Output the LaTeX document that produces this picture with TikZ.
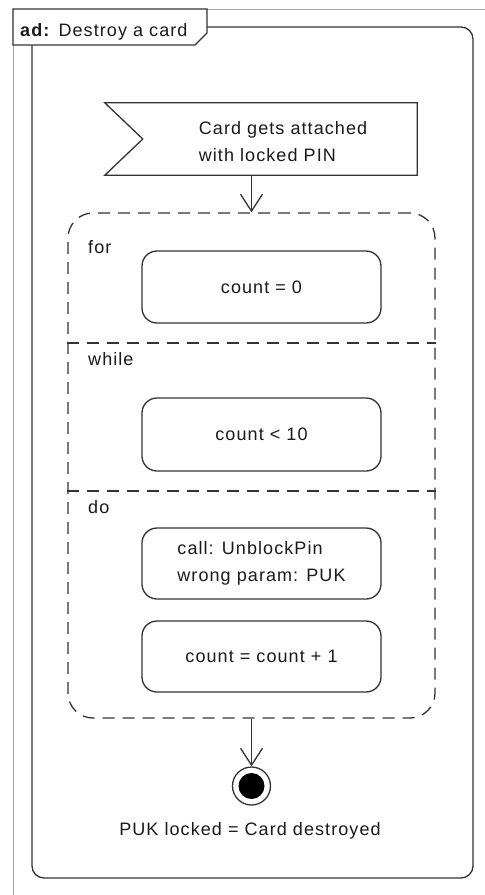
\documentclass[tikz,border=0pt]{standalone}
\usepackage{fontspec}
\setmainfont{Liberation Sans}[LetterSpace=6]
\usetikzlibrary{arrows.meta,calc}
\definecolor{ln}{HTML}{333333}
\definecolor{tx}{HTML}{1A1A1A}
\begin{document}
\begin{tikzpicture}[x=1pt,y=-1pt,
  every node/.style={font=\fontsize{18}{27}\selectfont, text=tx},
  line/.style={draw=ln, line width=1.3pt},
  action/.style={line, rectangle, rounded corners=15pt, minimum width=239pt, inner sep=0pt},
  dsh/.style={draw=ln, line width=1.3pt, dash pattern=on 12pt off 8pt},
  arr/.style={draw=ln, line width=1.3pt, -{Straight Barb[length=17pt,width=22pt,line width=1.3pt]}},
  lbl/.style={anchor=base west, inner sep=0pt},
]
\useasboundingbox (0,0) rectangle (485,895);
\fill[white] (0,0) rectangle (485,895);
% outer frame
\draw[gray!70, line width=1pt] (13,895) -- (13,9) -- (485,9);
% activity frame
\draw[line, rounded corners=12pt] (32,27) rectangle (473,878);
% tab
\draw[line, fill=white] (13,9) -- (207,9) -- (207,33) -- (195,45) -- (13,45) -- cycle;
\node[lbl] (title) at (20,36) {\textbf{ad:} Destroy a card};
% accept event
\node[minimum width=312pt, minimum height=72pt, inner sep=0pt] (ev) at (261,139) {};
\draw[line] (ev.north west) -- (ev.north east) -- (ev.south east) -- (ev.south west) -- ($(ev.west)+(38,0)$) -- cycle;
\node[align=left, inner sep=0pt] (evt) at (283,142) {Card gets attached\\with locked PIN};
% loop region
\node[dsh, rectangle, rounded corners=25pt, minimum width=367pt, minimum height=505pt, inner sep=0pt] (loop) at (251.5,465.5) {};
\draw[arr] (loop.north |- ev.south) -- (loop.north);
\coordinate (d1) at (0,343);
\coordinate (d2) at (0,491);
\draw[dsh] (loop.west |- d1) -- (loop.east |- d1);
\draw[dsh] (loop.west |- d2) -- (loop.east |- d2);
\node[lbl] (for) at (88,253) {for};
\node[lbl] (while) at (88,365) {while};
\node[lbl] (do) at (88,513) {do};
% actions
\node[action, minimum height=72pt] (a1) at (261.5,287) {count = 0};
\node[action, minimum height=73pt] (a2) at (261.5,434.5) {count < 10};
\node[action, minimum height=71pt, align=left] (a3) at (261.5,563.5) {call: UnblockPin\\wrong param: PUK};
\node[action, minimum height=71pt] (a4) at (261.5,656.5) {count = count + 1};
% final node
\node[circle, draw=ln, line width=1.3pt, minimum size=38pt, inner sep=0pt] (fin) at (251.5,786) {};
\fill[black] (fin.center) circle (13pt);
\draw[arr] (loop.south) -- (fin.north);
\node[anchor=base, inner sep=0pt] (endlbl) at (250,835) {PUK locked = Card destroyed};
\end{tikzpicture}
\end{document}
